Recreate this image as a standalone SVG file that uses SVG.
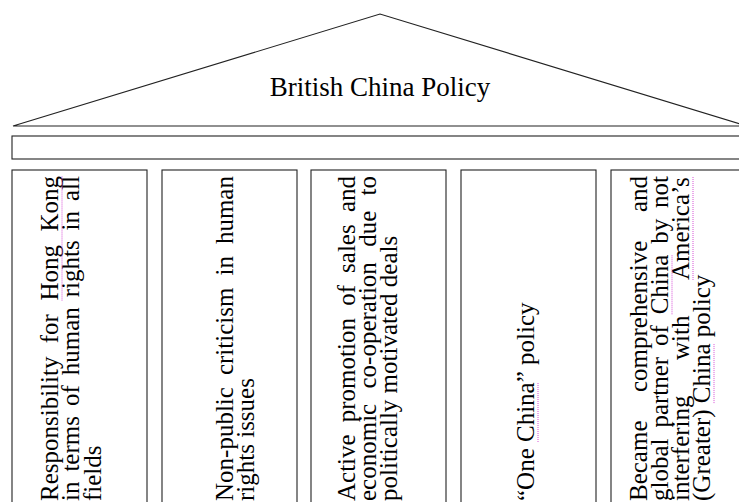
<svg xmlns="http://www.w3.org/2000/svg" width="739" height="502" viewBox="0 0 739 502">
<style>
.ln{fill:none;stroke:#222;stroke-width:1.1}
.t{font-family:"Liberation Serif","Times New Roman",serif;font-size:25px;fill:#000}
.ttl{font-family:"Liberation Serif","Times New Roman",serif;font-size:27px;fill:#000;text-anchor:middle}
.sp{fill:none;stroke:#d850d8;stroke-width:1;stroke-dasharray:1 1}
</style>
<rect width="739" height="502" fill="#fff"/>
<g id="roof">
<polygon class="ln" points="13,126 380,14 747,126"/>
<text class="ttl" x="380" y="96">British China Policy</text>
</g>
<g id="beam"><rect class="ln" x="12" y="136" width="735" height="23"/></g>
<g id="connectors"></g>
<g id="col1">
<rect class="ln" x="12" y="170" width="135" height="345"/>
<g transform="translate(0,501) rotate(-90)">
<text class="t" y="57.5"><tspan x="0">Responsibility</tspan><tspan x="157.7">for</tspan><tspan x="200.4">Hong</tspan><tspan x="269.4">Kong</tspan></text>
<text class="t" y="79"><tspan x="0">in</tspan><tspan x="29.4">terms</tspan><tspan x="94.9">of</tspan><tspan x="125.7">human</tspan><tspan x="203.7">rights</tspan><tspan x="270.6">in</tspan><tspan x="300">all</tspan></text>
<text class="t" x="0" y="100.5">fields</text>
<line class="sp" x1="200.4" y1="62" x2="325" y2="62"/>
</g>
</g>
<g id="col2">
<rect class="ln" x="162" y="170" width="135" height="345"/>
<g transform="translate(0,501) rotate(-90)">
<text class="t" y="233"><tspan x="0">Non-public</tspan><tspan x="125.9">criticism</tspan><tspan x="225.5">in</tspan><tspan x="256.9">human</tspan></text>
<text class="t" x="0" y="254">rights issues</text>
</g>
</g>
<g id="col3">
<rect class="ln" x="311" y="170" width="135" height="345"/>
<g transform="translate(0,501) rotate(-90)">
<text class="t" y="355"><tspan x="0">Active</tspan><tspan x="78.8">promotion</tspan><tspan x="195.2">of</tspan><tspan x="228.1">sales</tspan><tspan x="288.9">and</tspan></text>
<text class="t" y="376"><tspan x="0">economic</tspan><tspan x="112.5">co-operation</tspan><tspan x="254.2">due</tspan><tspan x="305.6">to</tspan></text>
<text class="t" x="0" y="397">politically motivated deals</text>
</g>
</g>
<g id="col4">
<rect class="ln" x="461" y="170" width="135" height="345"/>
<g transform="translate(0,501) rotate(-90)">
<text class="t" x="0" y="534">“One China” policy</text>
<line class="sp" x1="59" y1="538" x2="118.7" y2="538"/>
</g>
</g>
<g id="col5">
<rect class="ln" x="611" y="170" width="135" height="345"/>
<g transform="translate(0,501) rotate(-90)">
<text class="t" y="647"><tspan x="0">Became</tspan><tspan x="109">comprehensive</tspan><tspan x="288.9">and</tspan></text>
<text class="t" y="668"><tspan x="0">global</tspan><tspan x="73.4">partner</tspan><tspan x="155">of</tspan><tspan x="186.7">China</tspan><tspan x="257.2">by</tspan><tspan x="293">not</tspan></text>
<text class="t" y="689"><tspan x="0">interfering</tspan><tspan x="141">with</tspan><tspan x="221">America’s</tspan></text>
<text class="t" x="0" y="710">(Greater) China policy</text>
<line class="sp" x1="186.7" y1="672" x2="246.4" y2="672"/>
<line class="sp" x1="221" y1="693" x2="325" y2="693"/>
<line class="sp" x1="97.9" y1="714" x2="157.6" y2="714"/>
</g>
</g>
</svg>
